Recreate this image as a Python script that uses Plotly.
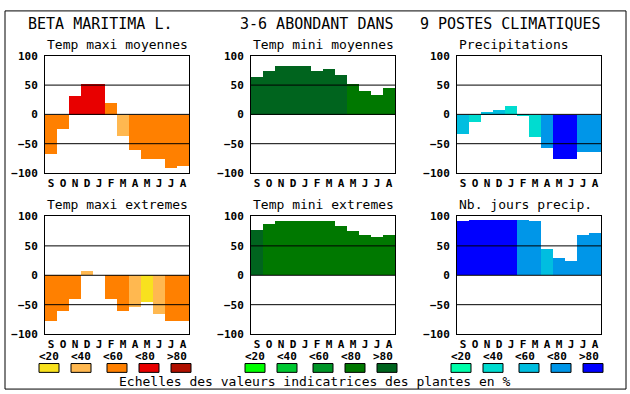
import plotly.graph_objects as go

W, H = 630, 394
PAPER_H = 400  # rendered page height (picture is squeezed to H)
FONT = "DejaVu Sans Mono"

months = ["S", "O", "N", "D", "J", "F", "M", "A", "M", "J", "J", "A"]

temp_maxi_moy = [-68, -25, 32, 52, 53, 20, -37, -61, -76, -76, -91, -88]
temp_mini_moy = [65, 75, 83, 83, 83, 75, 78, 68, 52, 41, 34, 46]
precip = [-33, -12, 4, 7, 14, -3, -38, -57, -75, -75, -63, -63]
temp_maxi_ext = [-78, -62, -42, 7, 0, -42, -61, -54, -47, -66, -78, -78]
temp_mini_ext = [76, 86, 91, 91, 91, 91, 91, 83, 74, 68, 64, 68]
nb_jours = [91, 93, 93, 93, 94, 93, 91, 44, 28, 23, 68, 71]

# indicator class per bar (0:<20, 1:<40, 2:<60, 3:<80, 4:>80)
cls_maxi_moy = [2, 2, 3, 3, 3, 2, 1, 2, 2, 2, 2, 2]
cls_mini_moy = [4, 4, 4, 4, 4, 4, 4, 4, 3, 3, 3, 3]
cls_precip = [2, 1, 2, 2, 1, 1, 1, 3, 4, 4, 3, 3]
cls_maxi_ext = [2, 2, 2, 1, 2, 2, 2, 1, 0, 1, 2, 2]
cls_mini_ext = [4, 3, 3, 3, 3, 3, 3, 3, 3, 3, 3, 3]
cls_nb_jours = [4, 4, 4, 4, 4, 3, 3, 2, 3, 3, 3, 3]

reds = ["#F8E11E", "#FFB850", "#FF8000", "#E80000", "#B01000"]
greens = ["#00FF00", "#00C832", "#009628", "#007800", "#00641E"]
blues = ["#00FFAA", "#00DCD0", "#00BEE0", "#0096E8", "#0000FF"]

class_labels = ["<20", "<40", "<60", "<80", ">80"]

panel_titles = ["Temp maxi moyennes", "Temp mini moyennes", "Precipitations",
                "Temp maxi extremes", "Temp mini extremes", "Nb. jours precip."]

y_ticks = [100, 50, 0, -50, -100]

panels = [
    (temp_maxi_moy, cls_maxi_moy, reds),
    (temp_mini_moy, cls_mini_moy, greens),
    (precip, cls_precip, blues),
    (temp_maxi_ext, cls_maxi_ext, reds),
    (temp_mini_ext, cls_mini_ext, greens),
    (nb_jours, cls_nb_jours, blues),
]

col_x = [(45, 189), (251, 395), (457, 601)]
row_y = [(50.7, 170), (214.3, 334)]


def px(x):
    return x / W


def py(y):
    return 1 - y / H


fig = go.Figure()
layout = dict(
    width=W, height=PAPER_H, autosize=False, margin=dict(l=0, r=0, t=0, b=0),
    paper_bgcolor="white", plot_bgcolor="white", showlegend=False,
    bargap=0, font=dict(family=FONT, color="black"),
)
annotations = []
shapes = []

for i, (vals, cls, pal) in enumerate(panels):
    r, c = divmod(i, 3)
    n = i + 1
    xa = "x" if n == 1 else f"x{n}"
    ya = "y" if n == 1 else f"y{n}"
    fig.add_trace(go.Bar(
        x=list(range(len(months))), y=vals,
        marker=dict(color=[pal[k] for k in cls], line=dict(width=0)),
        width=1.0, xaxis=xa, yaxis=ya, hoverinfo="skip",
    ))
    x0, x1 = col_x[c]
    y0, y1 = row_y[r]
    layout[f"xaxis{'' if n == 1 else n}"] = dict(
        domain=[px(x0), px(x1)], range=[-0.5, 11.5], anchor=ya,
        tickvals=list(range(12)), ticktext=months, showgrid=False,
        zeroline=False, showline=True, linecolor="black", linewidth=1,
        mirror=True, ticks="", fixedrange=True, ticklabelstandoff=0,
        tickfont=dict(family=FONT, size=11, weight="bold", color="black"),
    )
    layout[f"yaxis{'' if n == 1 else n}"] = dict(
        domain=[py(y1), py(y0)], range=[-100, 100], anchor=xa,
        tickvals=y_ticks, showgrid=False, zeroline=False,
        showline=True, linecolor="black", linewidth=1, mirror=True,
        ticks="", ticklabelstandoff=4, fixedrange=True,
        tickfont=dict(family=FONT, size=11, weight="bold", color="black"),
    )
    for g in [50, 0, -50]:
        shapes.append(dict(type="line", xref=f"{xa} domain", yref=ya,
                           x0=0, x1=1, y0=g, y1=g, layer="above",
                           line=dict(color="black", width=1)))
    annotations.append(dict(
        text=panel_titles[i], x=px(x0), y=py(y0 - 12), xref="paper",
        yref="paper", xanchor="left", yanchor="middle", showarrow=False,
        font=dict(family=FONT, size=13, color="black"),
    ))

for txt, xx, anc in [("BETA MARITIMA L.", 26, "left"),
                     ("3-6 ABONDANT DANS", 396, "right"),
                     ("9 POSTES CLIMATIQUES", 603, "right")]:
    annotations.append(dict(
        text=txt, x=px(xx), y=py(18), xref="paper", yref="paper",
        xanchor=anc, yanchor="middle", showarrow=False,
        font=dict(family=FONT, size=15, color="black"),
    ))

label_offsets = [49, 81, 113, 145, 177]
box_offsets = [39, 71, 107, 139, 171]
for c, pal in enumerate([reds, greens, blues]):
    base = c * 206
    for k in range(5):
        annotations.append(dict(
            text=class_labels[k], x=px(base + label_offsets[k]), y=py(357),
            xref="paper", yref="paper", xanchor="center", yanchor="middle",
            showarrow=False,
            font=dict(family=FONT, size=11, weight="bold", color="black"),
        ))
        bx = base + box_offsets[k]
        shapes.append(dict(type="rect", xref="paper", yref="paper",
                           x0=px(bx), x1=px(bx + 20), y0=py(373), y1=py(364),
                           fillcolor=pal[k], line=dict(color="black", width=1)))

annotations.append(dict(
    text="Echelles des valeurs indicatrices des plantes en %",
    x=px(315), y=py(382), xref="paper", yref="paper", xanchor="center",
    yanchor="middle", showarrow=False,
    font=dict(family=FONT, size=13, color="black"),
))

# outer frame
shapes.append(dict(type="rect", xref="paper", yref="paper",
                   x0=px(5), x1=px(626), y0=py(390), y1=py(5),
                   line=dict(color="black", width=1)))

layout["annotations"] = annotations
layout["shapes"] = shapes
fig.update_layout(**layout)
fig.write_html(
    "out.html",
    config={"displayModeBar": False, "responsive": False},
    post_script="document.body.style.margin='0';",
)
